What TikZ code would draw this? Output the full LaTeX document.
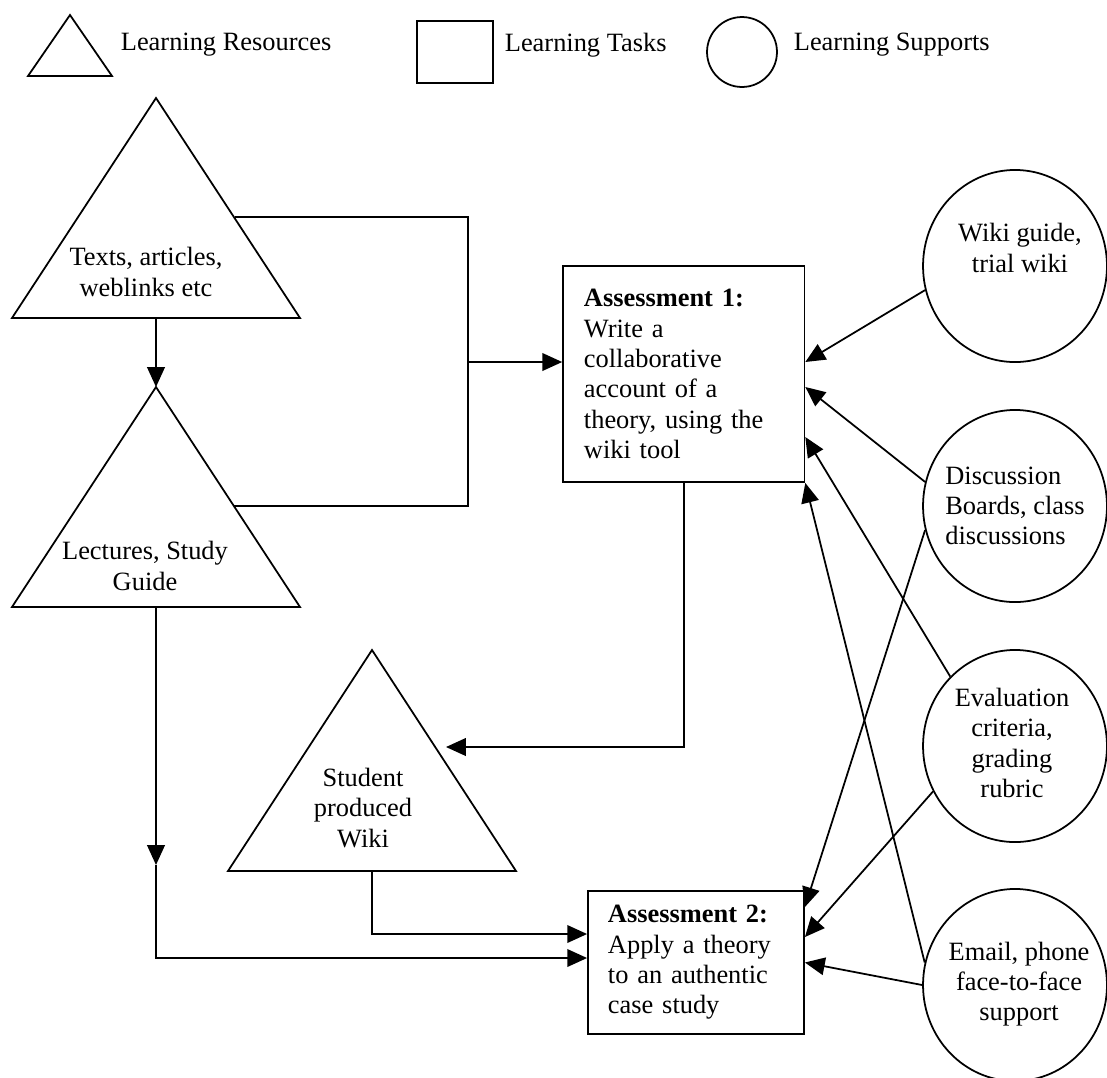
\documentclass[tikz,border=0pt]{standalone}
\usepackage{fontspec}
\setmainfont{Liberation Serif}
\usetikzlibrary{arrows.meta,positioning,shapes.geometric,calc}
\tikzset{task/.style={
  % The shape:
  rectangle,
  % The border:
  draw=black,
  % Text:
  align=left,
  inner ysep=0pt,
  }
}
\tikzset{support/.style={
  % The shape:
  ellipse,
  minimum width=83.6pt,
  minimum height=87.3pt,
  % The rest
  inner sep=0pt,
  draw=black,
  }
}
\tikzset{restext/.style={
  % Text only, the outline is drawn apart:
  align=center,
  inner sep=0pt,
  }
}

\begin{document}
\begin{tikzpicture}[x=0.4545pt,y=-0.4545pt,line width=0.8pt,
    font=\fontsize{12}{13.8}\selectfont,
    flow/.style={-{Triangle[length=9pt,width=8pt]}},
    legtext/.style={anchor=west,inner sep=0pt}]
  \useasboundingbox (0,0) rectangle (1107,1077);

  % Legend:
  \draw (70,15) -- (112,76) -- (28,76) -- cycle;
  \node (lres)  [legtext] at (120,45) {Learning Resources};
  \node (lbox)  [draw,minimum width=34.5pt,minimum height=28.2pt] at (455,52) {};
  \node (ltask) [legtext] at (504,45) {Learning Tasks};
  \node (lcirc) [circle,draw,minimum size=31.8pt] at (742,52) {};
  \node (lsup)  [legtext] at (793,45) {Learning Supports};

  % Learning resources:
  \coordinate (t1a) at (156,98);
  \coordinate (t1b) at (156,318);
  \draw (t1a) -- (300,318) -- (12,318) -- cycle;
  \node (texts) [restext] at (146,272) {Texts, articles,\\weblinks etc};

  \coordinate (t2a) at (156,387);
  \coordinate (t2b) at (156,607);
  \draw (t2a) -- (300,607) -- (12,607) -- cycle;
  \node (lect) [restext] at (145,566) {Lectures, Study\\Guide};

  \coordinate (t3a) at (372,650);
  \coordinate (t3b) at (372,871);
  \draw (t3a) -- (516,871) -- (228,871) -- cycle;
  \node (wikiprod) [restext] at (363,808) {Student\\produced\\Wiki};

  % Learning tasks:
  \node (a1) [task,minimum width=109.3pt,minimum height=98.2pt,
    text width=90.7pt,inner xsep=9.5pt] at (683.75,374)
    {\textbf{Assessment 1:}\\Write a\\collaborative\\account of a\\theory, using the\\wiki tool};
  \node (a2) [task,minimum width=98.2pt,minimum height=65pt,
    text width=80pt,inner xsep=9.1pt] at (696,962.5)
    {\textbf{Assessment 2:}\\Apply a theory\\to an authentic\\case study};

  % Learning supports:
  \node (wiki)  [support] at (1015,266) {};
  \node (disc)  [support] at (1015,506) {};
  \node (eval)  [support] at (1015,746) {};
  \node (email) [support] at (1015,985) {};
  \node (wikit)  [restext] at (1020,248) {Wiki guide,\\trial wiki};
  \node (disct)  [restext,align=left] at (disc) {Discussion\\Boards, class\\discussions};
  \node (evalt)  [restext] at (1012,743) {Evaluation\\criteria,\\grading\\rubric};
  \node (emailt) [restext] at (1019,984) {Email, phone\\face-to-face\\support};

  % Resources into the tasks
  \coordinate (t1e)  at (235,217);
  \coordinate (t2e)  at (234,506);
  \coordinate (jn)   at (468,362);
  \coordinate (t3e)  at (446,747);
  \coordinate (lmid) at (156,865);
  \draw (t1e) -| (jn) |- (t2e);
  \draw[flow] (jn) -- (jn -| a1.west);
  \draw[flow] (t1b) -- (t2a);
  \draw[flow] (a1.south) |- (t3e);
  \draw[flow] (t2b) -- (lmid);
  \draw[flow] (lmid) |- ($(a2.west)+(0,-4.5)$);
  \draw[flow] (t3b) |- ($(a2.west)+(0,-28.5)$);

  % Supports into the tasks
  \draw[flow] (wiki.195)  -- ($(a1.east)+(0,-12)$);
  \draw[flow] (disc.165)  -- ($(a1.east)+(0,13)$);
  \draw[flow] (eval.133)  -- ($(a1.east)+(0,63)$);
  \draw[flow] (email.166) -- (a1.south east);
  \draw[flow] (disc.195)  -- ($(a2.east)+(0,-55.5)$);
  \draw[flow] (eval.209)  -- ($(a2.east)+(0,-25.5)$);
  \draw[flow] (email.180) -- (a2.east);
\end{tikzpicture}
\end{document}
